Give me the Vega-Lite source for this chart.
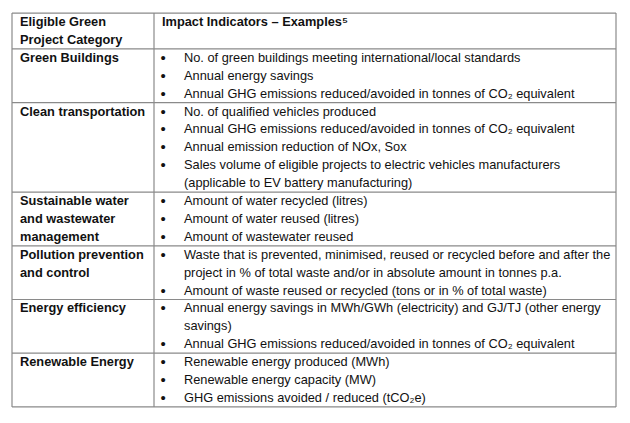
{
  "$schema": "https://vega.github.io/schema/vega-lite/v6.json",
  "width": 630,
  "height": 423,
  "padding": 0,
  "autosize": {"type": "none"},
  "background": "white",
  "config": {"view": {"stroke": null}, "text": {"font": "Liberation Sans", "fontSize": 12.8, "color": "#111"}},
  "datasets": {
    "cells": [
      {"col": 0, "line": 0, "text": "Eligible Green", "bold": true, "bullet": false},
      {"col": 0, "line": 1, "text": "Project Category", "bold": true, "bullet": false},
      {"col": 1, "line": 0, "text": "Impact Indicators – Examples⁵", "bold": true, "bullet": false},
      {"col": 0, "line": 2, "text": "Green Buildings", "bold": true, "bullet": false},
      {"col": 0, "line": 5, "text": "Clean transportation", "bold": true, "bullet": false},
      {"col": 0, "line": 10, "text": "Sustainable water", "bold": true, "bullet": false},
      {"col": 0, "line": 11, "text": "and wastewater", "bold": true, "bullet": false},
      {"col": 0, "line": 12, "text": "management", "bold": true, "bullet": false},
      {"col": 0, "line": 13, "text": "Pollution prevention", "bold": true, "bullet": false},
      {"col": 0, "line": 14, "text": "and control", "bold": true, "bullet": false},
      {"col": 0, "line": 16, "text": "Energy efficiency", "bold": true, "bullet": false},
      {"col": 0, "line": 19, "text": "Renewable Energy", "bold": true, "bullet": false},
      {"col": 1, "line": 2, "text": "No. of green buildings meeting international/local standards", "bold": false, "bullet": true},
      {"col": 1, "line": 3, "text": "Annual energy savings", "bold": false, "bullet": true},
      {"col": 1, "line": 4, "text": "Annual GHG emissions reduced/avoided in tonnes of CO₂ equivalent", "bold": false, "bullet": true},
      {"col": 1, "line": 5, "text": "No. of qualified vehicles produced", "bold": false, "bullet": true},
      {"col": 1, "line": 6, "text": "Annual GHG emissions reduced/avoided in tonnes of CO₂ equivalent", "bold": false, "bullet": true},
      {"col": 1, "line": 7, "text": "Annual emission reduction of NOx, Sox", "bold": false, "bullet": true},
      {"col": 1, "line": 8, "text": "Sales volume of eligible projects to electric vehicles manufacturers", "bold": false, "bullet": true},
      {"col": 1, "line": 9, "text": "(applicable to EV battery manufacturing)", "bold": false, "bullet": false},
      {"col": 1, "line": 10, "text": "Amount of water recycled (litres)", "bold": false, "bullet": true},
      {"col": 1, "line": 11, "text": "Amount of water reused (litres)", "bold": false, "bullet": true},
      {"col": 1, "line": 12, "text": "Amount of wastewater reused", "bold": false, "bullet": true},
      {"col": 1, "line": 13, "text": "Waste that is prevented, minimised, reused or recycled before and after the", "bold": false, "bullet": true},
      {"col": 1, "line": 14, "text": "project in % of total waste and/or in absolute amount in tonnes p.a.", "bold": false, "bullet": false},
      {"col": 1, "line": 15, "text": "Amount of waste reused or recycled (tons or in % of total waste)", "bold": false, "bullet": true},
      {"col": 1, "line": 16, "text": "Annual energy savings in MWh/GWh (electricity) and GJ/TJ (other energy", "bold": false, "bullet": true},
      {"col": 1, "line": 17, "text": "savings)", "bold": false, "bullet": false},
      {"col": 1, "line": 18, "text": "Annual GHG emissions reduced/avoided in tonnes of CO₂ equivalent", "bold": false, "bullet": true},
      {"col": 1, "line": 19, "text": "Renewable energy produced (MWh)", "bold": false, "bullet": true},
      {"col": 1, "line": 20, "text": "Renewable energy capacity (MW)", "bold": false, "bullet": true},
      {"col": 1, "line": 21, "text": "GHG emissions avoided / reduced (tCO₂e)", "bold": false, "bullet": true}
    ],
    "hlines": [
      {"y": -0.5, "x0": 0, "x1": 2},
      {"y": 1.5, "x0": 0, "x1": 2},
      {"y": 4.5, "x0": 0, "x1": 2},
      {"y": 9.5, "x0": 0, "x1": 2},
      {"y": 12.5, "x0": 0, "x1": 2},
      {"y": 15.5, "x0": 0, "x1": 2},
      {"y": 18.5, "x0": 0, "x1": 2},
      {"y": 21.5, "x0": 0, "x1": 2}
    ],
    "vlines": [
      {"x": 0, "y0": -0.5, "y1": 21.5},
      {"x": 1, "y0": -0.5, "y1": 21.5},
      {"x": 2, "y0": -0.5, "y1": 21.5}
    ]
  },
  "resolve": {"scale": {"x": "shared", "y": "shared"}},
  "layer": [
    {
      "data": {"name": "hlines"},
      "mark": {"type": "rule", "color": "#8a8a8a", "strokeWidth": 1.2},
      "encoding": {
        "x": {"field": "x0", "type": "quantitative", "scale": {"domain": [0, 1, 2], "range": [12, 154, 616], "nice": false, "zero": false}, "axis": null},
        "x2": {"field": "x1"},
        "y": {"field": "y", "type": "quantitative", "scale": {"domain": [-1.23, 22.4], "reverse": true, "nice": false, "zero": false}, "axis": null}
      }
    },
    {
      "data": {"name": "vlines"},
      "mark": {"type": "rule", "color": "#8a8a8a", "strokeWidth": 1.2},
      "encoding": {
        "x": {"field": "x", "type": "quantitative"},
        "y": {"field": "y0", "type": "quantitative"},
        "y2": {"field": "y1"}
      }
    },
    {
      "data": {"name": "cells"},
      "transform": [{"filter": "datum.bold"}],
      "mark": {"type": "text", "align": "left", "baseline": "middle", "fontWeight": "bold", "dx": 8},
      "encoding": {
        "x": {"field": "col", "type": "quantitative"},
        "y": {"field": "line", "type": "quantitative"},
        "text": {"field": "text"}
      }
    },
    {
      "data": {"name": "cells"},
      "transform": [{"filter": "!datum.bold"}],
      "mark": {"type": "text", "align": "left", "baseline": "middle", "dx": 30},
      "encoding": {
        "x": {"field": "col", "type": "quantitative"},
        "y": {"field": "line", "type": "quantitative"},
        "text": {"field": "text"}
      }
    },
    {
      "data": {"name": "cells"},
      "transform": [{"filter": "datum.bullet"}],
      "mark": {"type": "text", "align": "center", "baseline": "middle", "dx": 9, "fontSize": 15, "text": "•"},
      "encoding": {
        "x": {"field": "col", "type": "quantitative"},
        "y": {"field": "line", "type": "quantitative"}
      }
    }
  ]
}
